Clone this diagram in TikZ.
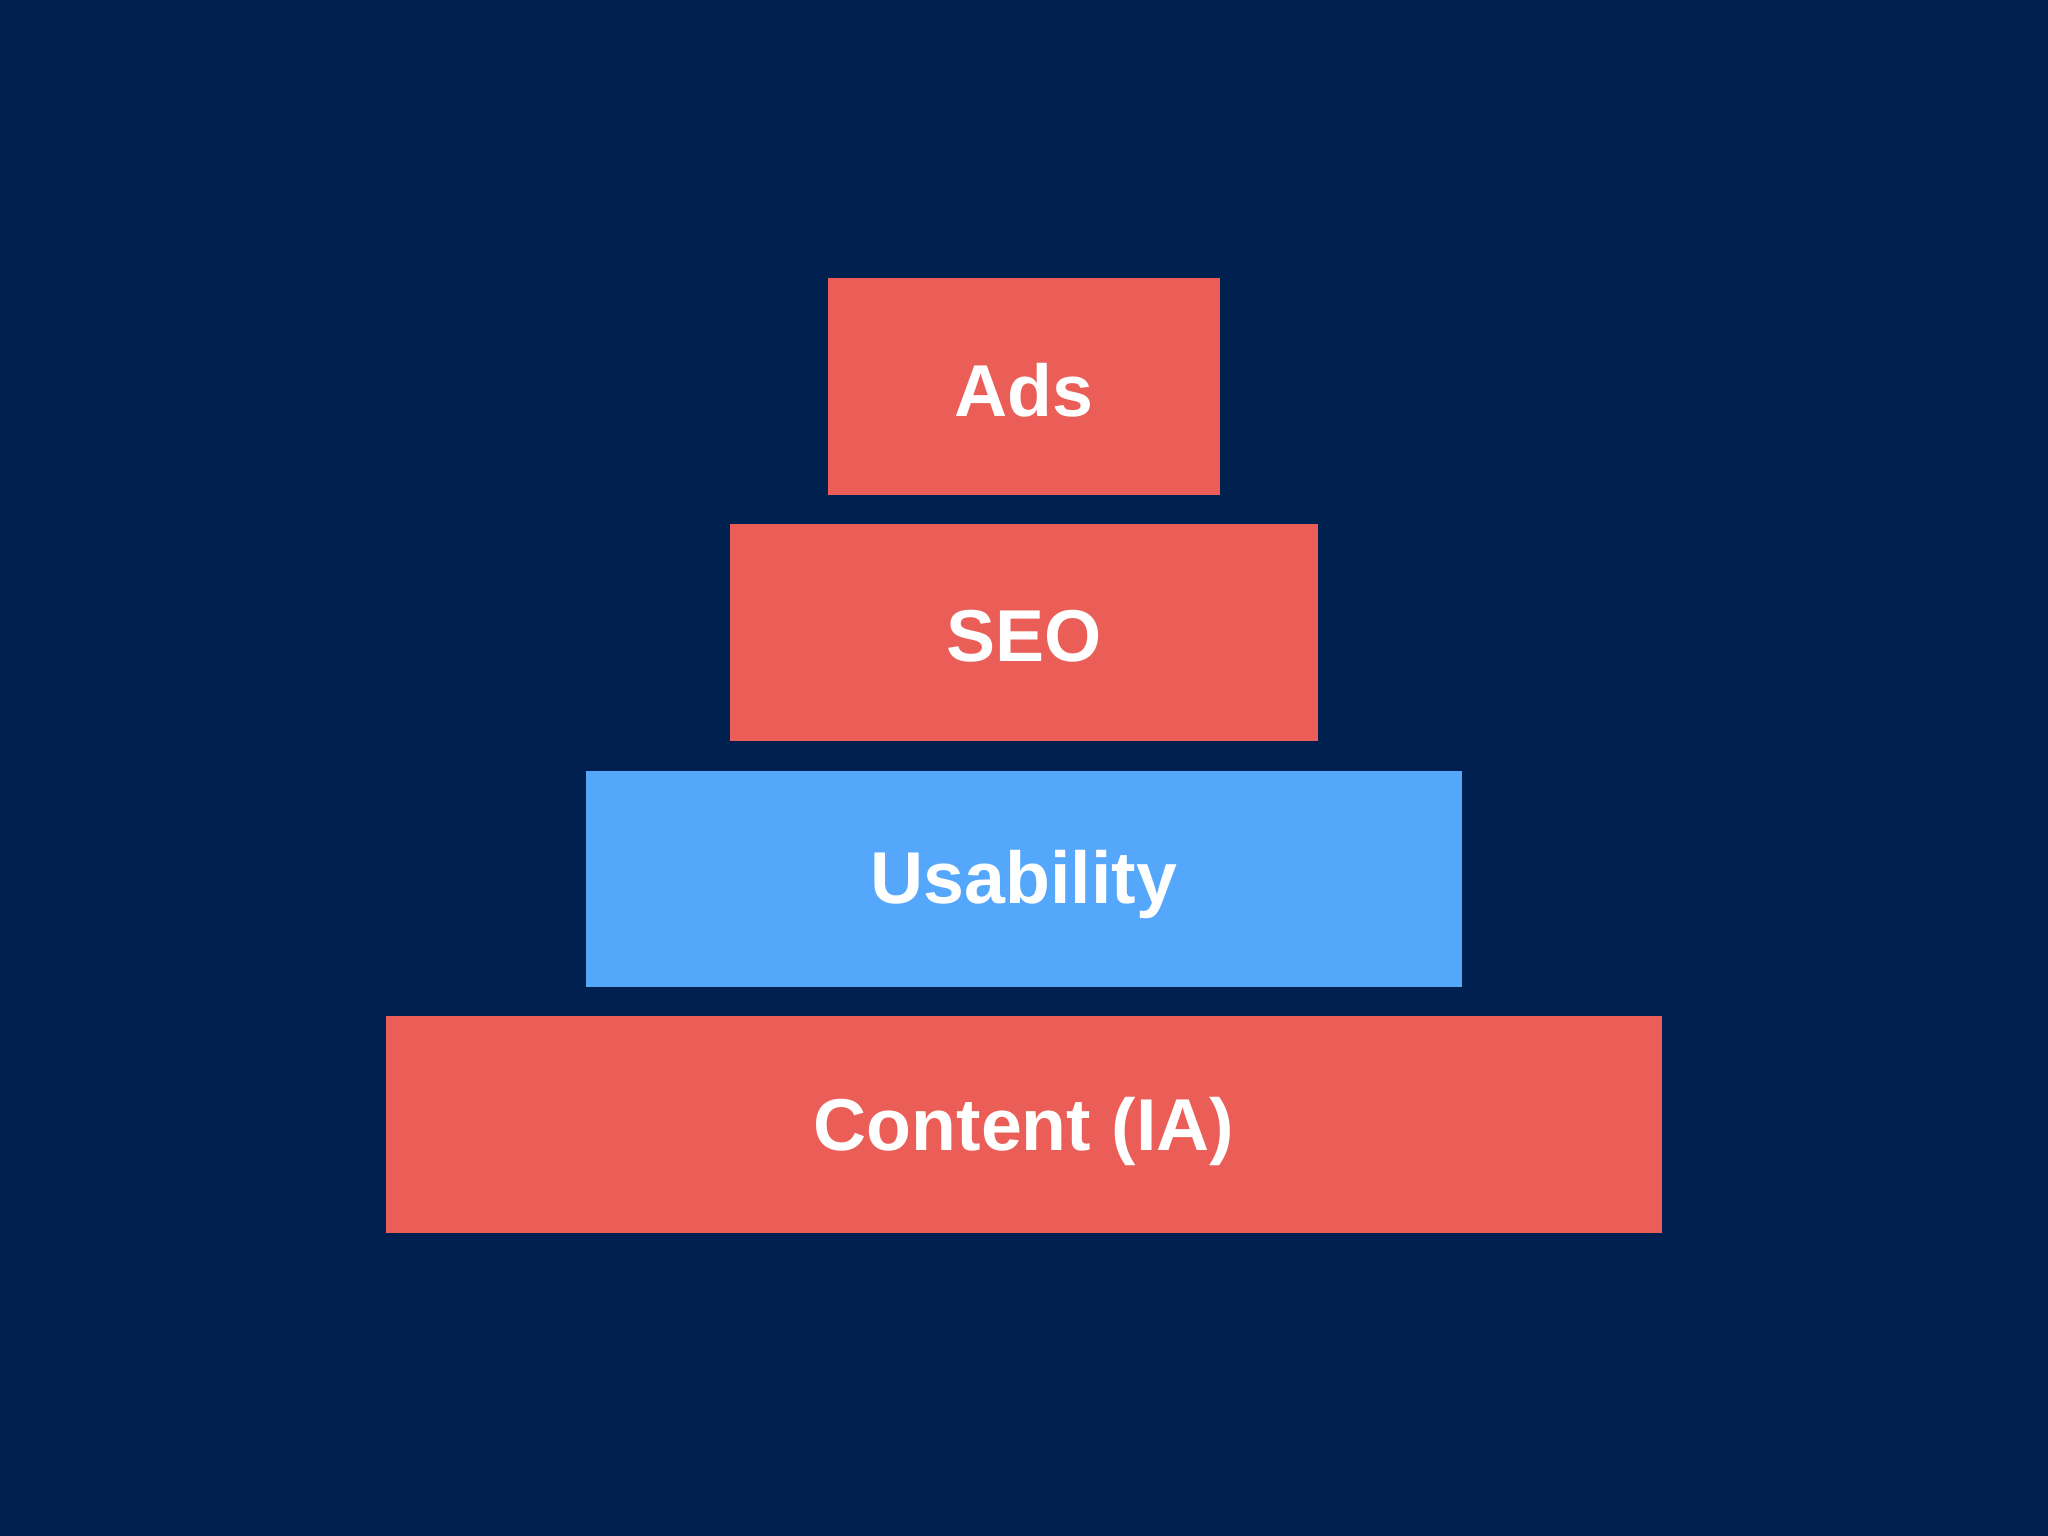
\documentclass[tikz,border=0pt]{standalone}
\usepackage{fontspec}
\setmainfont{Liberation Sans}
\definecolor{bg}{HTML}{002150}
\definecolor{redbox}{HTML}{EB5E57}
\definecolor{bluebox}{HTML}{54A7FB}
\begin{document}
\begin{tikzpicture}[x=0.01cm,y=-0.01cm,
  tier/.style={inner sep=0pt,text=white,font=\fontsize{16}{19}\selectfont\bfseries}]
\fill[bg] (0,0) rectangle (1568,1176);
\useasboundingbox (0,0) rectangle (1568,1176);
\node[tier,fill=redbox,minimum width=3cm,minimum height=1.66cm] (ads) at (784,296) {};
\node[tier] (adst) at (784,299) {Ads};
\node[tier,fill=redbox,minimum width=4.5cm,minimum height=1.66cm] (seo) at (784,484) {};
\node[tier] (seot) at (784,487) {SEO};
\node[tier,fill=bluebox,minimum width=6.7cm,minimum height=1.66cm] (usa) at (784,673) {};
\node[tier] (usat) at (784,677) {Usability};
\node[tier,fill=redbox,minimum width=9.76cm,minimum height=1.66cm] (con) at (784,861) {};
\node[tier] (cont) at (784,866) {Content (IA)};
\end{tikzpicture}
\end{document}
